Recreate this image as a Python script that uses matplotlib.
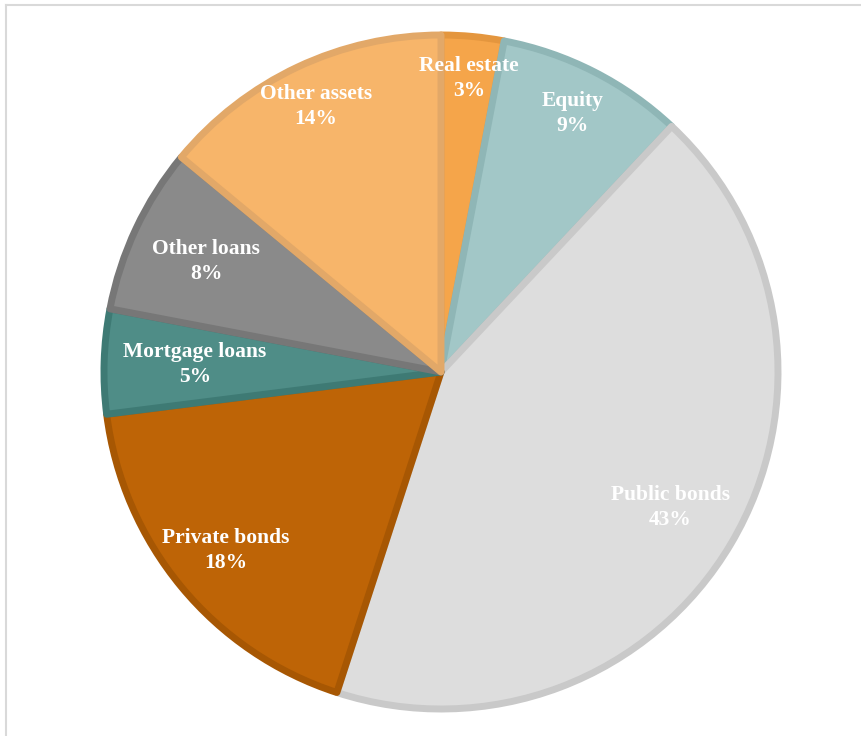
import matplotlib.pyplot as plt
from matplotlib.lines import Line2D
import numpy as np

labels = ['Real estate', 'Equity', 'Public bonds', 'Private bonds',
          'Mortgage loans', 'Other loans', 'Other assets']
shares = [3, 9, 43, 18, 5, 8, 14]

face_colors = ['#F5A54A', '#A2C7C7', '#DDDDDD', '#BE6406',
               '#4F8D87', '#8A8A8A', '#F7B56A']
edge_colors = ['#E4963E', '#8FB6B6', '#C9C9C9', '#A75703',
               '#3E7A74', '#777777', '#E2A868']
# radial position of each label, as fraction of radius
label_r = [0.875, 0.86, 0.79, 0.83, 0.73, 0.77, 0.87]

fig = plt.figure(figsize=(8.61, 7.36), dpi=100)
ax = fig.add_axes([0, 0, 1, 1])

cx, cy, R = 441, 364, 337
wedges, _ = ax.pie(shares, colors=face_colors, startangle=90,
                   counterclock=False, center=(cx, cy), radius=R,
                   frame=True,
                   wedgeprops=dict(linewidth=5, joinstyle='round'))
for w, ec in zip(wedges, edge_colors):
    w.set_edgecolor(ec)

total = sum(shares)
start = 90.0
for lab, s, rf in zip(labels, shares, label_r):
    mid = np.deg2rad(start - 360 * s / total / 2)
    start -= 360 * s / total
    x = cx + rf * R * np.cos(mid)
    y = cy + rf * R * np.sin(mid)
    ax.text(x, y, f'{lab}\n{s}%', ha='center', va='center',
            color='white', fontsize=15.5, fontweight='bold',
            family='Liberation Serif', linespacing=1.35)

ax.set_xlim(0, 861)
ax.set_ylim(0, 736)
ax.set_aspect('equal')
ax.axis('off')

# chart area border (only top and left visible)
fig.add_artist(Line2D([6 / 861, 1], [1 - 4.5 / 736] * 2,
                      color='#d9d9d9', lw=1.5, transform=fig.transFigure))
fig.add_artist(Line2D([6 / 861] * 2, [0, 1 - 4.5 / 736],
                      color='#d9d9d9', lw=1.5, transform=fig.transFigure))

fig.savefig('out.png', dpi=100, facecolor='white')
